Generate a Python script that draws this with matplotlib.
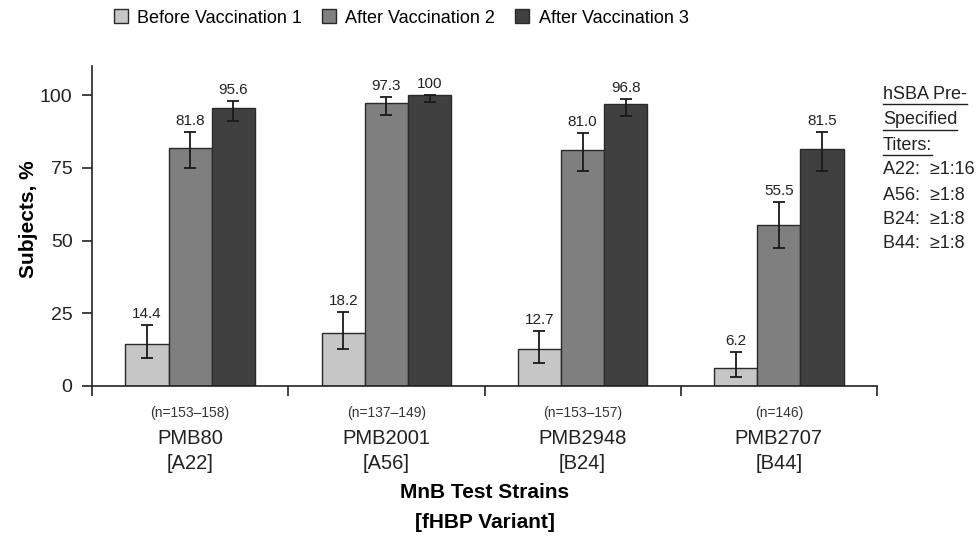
import numpy as np
import matplotlib
matplotlib.use("Agg")
import matplotlib.pyplot as plt
from matplotlib import font_manager
from matplotlib.patches import Patch

# data
strains = ["PMB80", "PMB2001", "PMB2948", "PMB2707"]
variants = ["[A22]", "[A56]", "[B24]", "[B44]"]
n_labels = ["(n=153\u2013158)", "(n=137\u2013149)", "(n=153\u2013157)", "(n=146)"]
series = ["Before Vaccination 1", "After Vaccination 2", "After Vaccination 3"]
before1 = [14.4, 18.2, 12.7, 6.2]
after2 = [81.8, 97.3, 81.0, 55.5]
after3 = [95.6, 100.0, 96.8, 81.5]
before1_ci = [(9.7, 21.0), (12.6, 25.5), (8.0, 18.9), (3.2, 11.6)]
after2_ci = [(74.8, 87.4), (93.1, 99.4), (74.0, 86.9), (47.3, 63.3)]
after3_ci = [(91.1, 98.0), (97.5, 100.0), (92.8, 98.6), (74.0, 87.3)]
titer_lines = ["A22:  \u22651:16", "A56:  \u22651:8", "B24:  \u22651:8", "B44:  \u22651:8"]

colors = ["#c6c6c6", "#7f7f7f", "#404040"]

names = {f.name for f in font_manager.fontManager.ttflist}
narrow = "Liberation Sans Narrow" if "Liberation Sans Narrow" in names else "Liberation Sans"
plt.rcParams["font.family"] = [narrow, "DejaVu Sans"]

fig = plt.figure(figsize=(9.76, 5.44), dpi=100)
ax = fig.add_axes([92 / 976, 1 - 386 / 544, (877 - 92) / 976, (386 - 66) / 544])

x = np.arange(len(strains))
w = 0.22
vals = [before1, after2, after3]
cis = [before1_ci, after2_ci, after3_ci]
for i, (v, ci, c) in enumerate(zip(vals, cis, colors)):
    pos = x + (i - 1) * w
    v = np.array(v)
    lo = v - np.array([a for a, b in ci])
    hi = np.array([b for a, b in ci]) - v
    ax.bar(pos, v, width=w, color=c, edgecolor="#2a2a2a", linewidth=1.0, label=series[i], zorder=2)
    ax.errorbar(pos, v, yerr=[lo, hi], fmt="none", ecolor="#1a1a1a", elinewidth=1.3,
                capsize=4, capthick=1.3, zorder=3)
    for p, val, (a, b) in zip(pos, v, ci):
        lbl = "100" if val == 100 else f"{val:.1f}"
        ax.text(p, b + 1.3, lbl, ha="center", va="bottom", fontsize=11, color="#222222")

ax.set_xlim(-0.5, 3.5)
ax.set_ylim(0, 110)
ax.set_yticks([0, 25, 50, 75, 100])
ax.tick_params(axis="y", labelsize=14, length=7, width=1.2, pad=7, colors="#222222")
ax.set_xticks(np.arange(-0.5, 4.0, 1.0))
ax.set_xticklabels([])
ax.tick_params(axis="x", length=7, width=1.2, colors="#222222")
for s in ["top", "right"]:
    ax.spines[s].set_visible(False)
for s in ["left", "bottom"]:
    ax.spines[s].set_linewidth(1.2)
    ax.spines[s].set_color("#222222")
ax.set_ylabel("Subjects, %", fontsize=15, fontweight="bold")
ax.yaxis.set_label_coords(-(92 - 38) / (877 - 92), 0.52)

for i in range(len(strains)):
    ax.text(x[i], -9.3, n_labels[i], ha="center", va="center", fontsize=10, color="#333333")
    ax.text(x[i], -17.9, strains[i], ha="center", va="center", fontsize=14.5, color="#222222")
    ax.text(x[i], -26.5, variants[i], ha="center", va="center", fontsize=14.5, color="#222222")

xc = (92 + 877) / 2 / 976
fig.text(xc, 1 - 493 / 544, "MnB Test Strains", ha="center", va="center",
         fontsize=15, fontweight="bold")
fig.text(xc, 1 - 523 / 544, "[fHBP Variant]", ha="center", va="center",
         fontsize=15, fontweight="bold")

handles = [Patch(facecolor=c, edgecolor="#2a2a2a", linewidth=1.0) for c in colors]
fig.legend(handles, series, loc="center", bbox_to_anchor=(401 / 976, 1 - 18 / 544), ncol=3,
           frameon=False, fontsize=13, handlelength=0.8, handleheight=0.8, columnspacing=1.1,
           handletextpad=0.5)

# titers note on the right
ys = [95, 120, 145, 169, 195, 219, 243]
lines = ["hSBA Pre-", "Specified", "Titers:"] + titer_lines
fig.canvas.draw()
r = fig.canvas.get_renderer()
for k, (txt, yy) in enumerate(zip(lines, ys)):
    t = fig.text(883 / 976, 1 - yy / 544, txt, ha="left", va="center", fontsize=13, color="#222222")
    if k < 3:
        bb = t.get_window_extent(renderer=r)
        yline = (bb.y0 - 1) / fig.bbox.height
        fig.add_artist(plt.Line2D([bb.x0 / fig.bbox.width, bb.x1 / fig.bbox.width], [yline, yline],
                                  color="#222222", linewidth=1.0))

fig.savefig("out.png", dpi=100)
